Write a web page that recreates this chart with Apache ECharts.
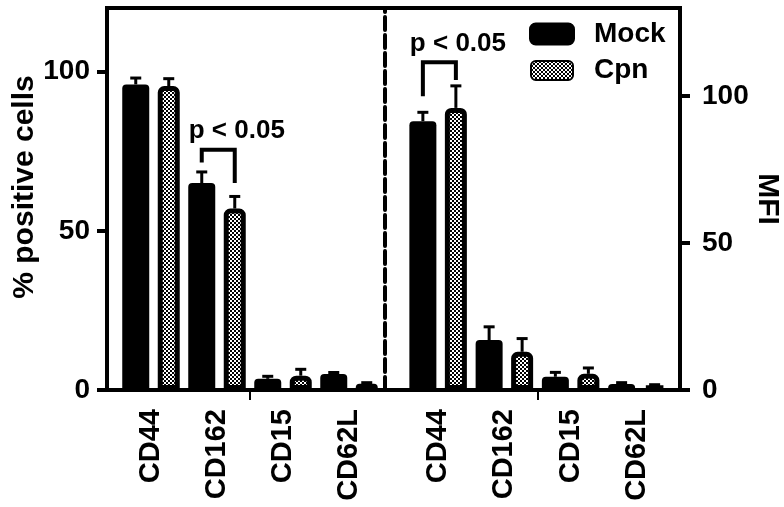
<!DOCTYPE html>
<html><head><meta charset="utf-8">
<script src="https://cdn.jsdelivr.net/npm/echarts@6/dist/echarts.min.js"></script>
<style>html,body{margin:0;padding:0;background:#fff}#c{width:784px;height:507px}</style>
</head><body><div id="c"></div>
<script>
// ---- data ----
const categories = ['CD44', 'CD162', 'CD15', 'CD62L'];
const seriesNames = ['Mock', 'Cpn'];
// left panel: % positive cells
const pctMock    = [96, 65, 3.5, 5];
const pctMockErr = [2, 3.5, 0.8, 0.5];
const pctCpn     = [95.5, 57, 4.5, 2];
const pctCpnErr  = [2.3, 3.8, 2, 0.3];
// right panel: MFI
const mfiMock    = [91.5, 17, 4.5, 2];
const mfiMockErr = [3, 4.5, 1.5, 0.5];
const mfiCpn     = [96, 13, 5.5, 1.5];
const mfiCpnErr  = [7.5, 4.5, 2, 0.3];
const leftTicks  = [0, 50, 100];
const rightTicks = [0, 50, 100];
const leftMax = 120, rightMax = 130;
const groupBoundaryTicks = [2]; // small tick between CD162 and CD15 (category-index space)
const leftTitle = '% positive cells', rightTitle = 'MFI';
const sigText = 'p < 0.05';
// significance brackets: [category index, bracket top, Mock leg end, Cpn leg end]
const pctSig = [1, 75.5, 71.5, 65];
const mfiSig = [0, 111.5, 100, 105.5];

// ---- styling ----
const FONT = '"Liberation Sans", Arial, sans-serif';
const mockW = 27, cpnW = 22, gapPct = 0.315;
const widthSum = mockW * (1 + gapPct) + cpnW;
const mockOff = -widthSum / 2 + mockW / 2;
const cpnOff = -widthSum / 2 + mockW * (1 + gapPct) + cpnW / 2;

const pc = document.createElement('canvas');
pc.width = 4; pc.height = 4;
const pctx = pc.getContext('2d');
pctx.fillStyle = '#fff'; pctx.fillRect(0, 0, 4, 4);
pctx.fillStyle = '#000'; pctx.fillRect(0, 0, 2, 2); pctx.fillRect(2, 2, 2, 2);
const checker = { image: pc, repeat: 'repeat' };

const mockStyle = { color: '#000', borderRadius: [4, 4, 0, 0] };
const cpnStyle = { color: checker, borderColor: '#000', borderWidth: 5, borderRadius: [4, 4, 0, 0] };

function errData(mock, mockErr, cpn, cpnErr) {
  const d = [];
  categories.forEach((c, i) => {
    d.push([i, mock[i], mockErr[i], 0]);
    d.push([i, cpn[i], cpnErr[i], 1]);
  });
  return d;
}
function errRender(params, api) {
  const cat = api.value(0), v = api.value(1), e = api.value(2), which = api.value(3);
  const base = api.coord([cat, v]);
  const top = api.coord([cat, v + e]);
  const x = base[0] + (which === 0 ? mockOff : cpnOff);
  return { type: 'group', children: [
    { type: 'line', shape: { x1: x, y1: base[1], x2: x, y2: top[1] }, style: { stroke: '#000', lineWidth: 3 } },
    { type: 'line', shape: { x1: x - 5.5, y1: top[1], x2: x + 5.5, y2: top[1] }, style: { stroke: '#000', lineWidth: 3 } }
  ]};
}
function sigRender(params, api) {
  const cat = api.value(0);
  const c = api.coord([cat, api.value(1)]);
  const yL = api.coord([cat, api.value(2)])[1];
  const yR = api.coord([cat, api.value(3)])[1];
  const xL = c[0] + mockOff, xR = c[0] + cpnOff;
  return { type: 'group', children: [
    { type: 'polyline', shape: { points: [[xL, yL], [xL, c[1]], [xR, c[1]], [xR, yR]] },
      style: { stroke: '#000', lineWidth: 4, fill: 'none', lineJoin: 'miter' } },
    { type: 'text', x: xL - 13, y: c[1] - 6,
      style: { text: sigText, fontSize: 26, fontWeight: 'bold', fontFamily: FONT, fill: '#000', align: 'left', verticalAlign: 'bottom' } }
  ]};
}

const labelStyle = { fontSize: 28, fontWeight: 'bold', fontFamily: FONT, color: '#000' };
function catAxis(gi) {
  return {
    type: 'category', gridIndex: gi, data: categories, position: 'bottom',
    axisLine: { show: false, onZero: false },
    axisTick: { show: false },
    axisLabel: Object.assign({ rotate: 90, margin: 19, interval: 0 }, labelStyle, { fontSize: 29 }),
    splitLine: { show: false }
  };
}
function boundaryAxis(gi) {
  return {
    type: 'value', gridIndex: gi, min: 0, max: categories.length, position: 'bottom',
    axisLine: { show: false, onZero: false },
    axisTick: { show: true, customValues: groupBoundaryTicks, length: 10, lineStyle: { color: '#000', width: 2 } },
    axisLabel: { show: false }, splitLine: { show: false }
  };
}

const chart = echarts.init(document.getElementById('c'), null, { renderer: 'canvas' });
chart.setOption({
  animation: false,
  backgroundColor: '#fff',
  legend: {
    data: [
      { name: 'Mock', itemStyle: { borderColor: '#000', borderWidth: 4 } },
      { name: 'Cpn' }
    ],
    orient: 'vertical', left: 524, top: 15,
    itemWidth: 42, itemHeight: 19, itemGap: 8.5, icon: 'roundRect',
    textStyle: { fontSize: 28, fontWeight: 'bold', fontFamily: FONT, color: '#000', lineHeight: 26, padding: [0, 0, 0, 16] }
  },
  grid: [
    { left: 118, width: 264, top: 8, height: 382 },
    { left: 405, width: 265, top: 8, height: 382 },
    { left: 107, width: 573, top: 8, height: 382, show: true, borderColor: '#000', borderWidth: 4, backgroundColor: 'transparent' }
  ],
  xAxis: [
    catAxis(0),
    catAxis(1),
    { type: 'value', gridIndex: 2, show: false },
    boundaryAxis(0),
    boundaryAxis(1)
  ],
  yAxis: [
    { type: 'value', gridIndex: 0, min: 0, max: leftMax, position: 'left', offset: 11,
      axisLine: { show: false, onZero: false },
      axisTick: { show: true, customValues: leftTicks, length: 10, lineStyle: { color: '#000', width: 4 } },
      axisLabel: Object.assign({ customValues: leftTicks, margin: 17 }, labelStyle),
      splitLine: { show: false },
      name: leftTitle, nameLocation: 'middle', nameGap: 64,
      nameTextStyle: { fontSize: 30, fontWeight: 'bold', fontFamily: FONT, color: '#000', padding: [0, 0, 0, 24] } },
    { type: 'value', gridIndex: 1, min: 0, max: rightMax, position: 'right', offset: 10,
      axisLine: { show: false, onZero: false },
      axisTick: { show: true, customValues: rightTicks, length: 10, lineStyle: { color: '#000', width: 4 } },
      axisLabel: Object.assign({ customValues: rightTicks, margin: 22 }, labelStyle),
      splitLine: { show: false },
      name: rightTitle, nameLocation: 'middle', nameGap: 69, nameRotate: -90,
      nameTextStyle: { fontSize: 30, fontWeight: 'bold', fontFamily: FONT, color: '#000' } },
    { type: 'value', gridIndex: 1, min: 0, max: rightMax, position: 'left', offset: 20,
      axisLine: { show: true, onZero: false, lineStyle: { color: '#000', width: 4, type: [13, 5] } },
      axisTick: { show: false }, axisLabel: { show: false }, splitLine: { show: false } },
    { type: 'value', gridIndex: 2, show: false }
  ],
  series: [
    { name: 'Mock', type: 'bar', xAxisIndex: 0, yAxisIndex: 0, data: pctMock, barWidth: mockW, barGap: (gapPct * 100) + '%', itemStyle: mockStyle },
    { name: 'Cpn', type: 'bar', xAxisIndex: 0, yAxisIndex: 0, data: pctCpn, barWidth: cpnW, barGap: (gapPct * 100) + '%', itemStyle: cpnStyle },
    { name: 'Mock', type: 'bar', xAxisIndex: 1, yAxisIndex: 1, data: mfiMock, barWidth: mockW, barGap: (gapPct * 100) + '%', itemStyle: mockStyle },
    { name: 'Cpn', type: 'bar', xAxisIndex: 1, yAxisIndex: 1, data: mfiCpn, barWidth: cpnW, barGap: (gapPct * 100) + '%', itemStyle: cpnStyle },
    { type: 'custom', xAxisIndex: 0, yAxisIndex: 0, renderItem: errRender, encode: { x: 0, y: 1 }, z: 1,
      data: errData(pctMock, pctMockErr, pctCpn, pctCpnErr) },
    { type: 'custom', xAxisIndex: 1, yAxisIndex: 1, renderItem: errRender, encode: { x: 0, y: 1 }, z: 1,
      data: errData(mfiMock, mfiMockErr, mfiCpn, mfiCpnErr) },
    { type: 'custom', xAxisIndex: 0, yAxisIndex: 0, renderItem: sigRender, encode: { x: 0, y: 1 }, data: [pctSig] },
    { type: 'custom', xAxisIndex: 1, yAxisIndex: 1, renderItem: sigRender, encode: { x: 0, y: 1 }, data: [mfiSig] }
  ]
});
</script></body></html>
